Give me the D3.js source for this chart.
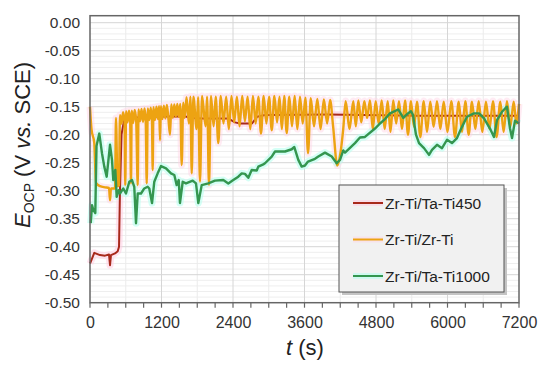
<!DOCTYPE html>
<html>
<head>
<meta charset="utf-8">
<script src="https://cdn.jsdelivr.net/npm/d3@7"></script>
<style>
    body { margin: 0; background: #ffffff; }
    svg { display: block; font-family: 'Liberation Sans', Arial, sans-serif; }
</style>
</head>
<body>
<div id="chart"></div>
<script>
// Tick values
const xTicks = [0, 1200, 2400, 3600, 4800, 6000, 7200];
const xMinorTicks = d3.range(0, 7201, 300);
const xGridMinor = [600, 1800, 3000, 4200, 5400, 6600];
const yTicks = [0, -0.05, -0.10, -0.15, -0.20, -0.25, -0.30, -0.35, -0.40, -0.45, -0.50];

const seriesNames = ['Zr-Ti/Ta-Ti450', 'Zr-Ti/Zr-Ti', 'Zr-Ti/Ta-Ti1000'];

// [t (s), E (V)]
const ta450 = [
    [0, -0.43], [12, -0.427], [72, -0.411], [168, -0.415], [252, -0.416], [319, -0.414],
    [336, -0.433], [352, -0.415], [420, -0.412], [465, -0.408], [487, -0.40], [503, -0.30],
    [529, -0.20], [570, -0.175], [638, -0.17], [1000, -0.168], [1594, -0.167], [1678, -0.17],
    [1896, -0.171], [2316, -0.171], [2434, -0.178], [2517, -0.18], [2719, -0.18], [2803, -0.168],
    [2937, -0.165], [4000, -0.164], [5500, -0.166], [7200, -0.166]
];

const zrzr = [
    [0, -0.15], [25, -0.19], [72, -0.215], [101, -0.286], [168, -0.292], [252, -0.294],
    [319, -0.295], [336, -0.317], [352, -0.296], [420, -0.296], [436, -0.17], [462, -0.292],
    [487, -0.29],
    [503, -0.165], [530, -0.18], [555, -0.16], [580, -0.176], [592, -0.29], [605, -0.158],
    [630, -0.178], [655, -0.157], [675, -0.176], [688, -0.287], [700, -0.157], [725, -0.179],
    [750, -0.156], [775, -0.175], [801, -0.29], [815, -0.155], [840, -0.176], [865, -0.154],
    [890, -0.177], [915, -0.153], [935, -0.175], [952, -0.287], [970, -0.153], [995, -0.174],
    [1020, -0.152], [1040, -0.176], [1052, -0.263], [1065, -0.151], [1090, -0.174], [1115, -0.15],
    [1140, -0.172], [1160, -0.149], [1175, -0.21], [1190, -0.149], [1215, -0.172], [1240, -0.148],
    [1265, -0.171], [1290, -0.147], [1315, -0.17], [1343, -0.20], [1365, -0.146], [1390, -0.17],
    [1415, -0.146], [1440, -0.168], [1465, -0.145], [1490, -0.168], [1515, -0.145], [1539, -0.254],
    [1565, -0.143], [1590, -0.17],
    [1620, -0.133], [1660, -0.18], [1685, -0.132], [1707, -0.269], [1735, -0.132], [1790, -0.19],
    [1815, -0.133], [1846, -0.284], [1880, -0.131], [1940, -0.185], [1965, -0.132], [1997, -0.29],
    [2030, -0.131], [2075, -0.185], [2110, -0.132], [2153, -0.215], [2195, -0.131], [2240, -0.18],
    [2285, -0.132], [2330, -0.19], [2375, -0.131], [2420, -0.178], [2465, -0.132], [2510, -0.185],
    [2555, -0.131], [2600, -0.176], [2645, -0.132], [2690, -0.19], [2735, -0.131], [2780, -0.18],
    [2825, -0.132], [2870, -0.198], [2915, -0.131], [2960, -0.18], [3005, -0.132], [3050, -0.192],
    [3095, -0.131], [3140, -0.178], [3180, -0.132], [3220, -0.19], [3260, -0.131], [3301, -0.197],
    [3345, -0.132], [3390, -0.185], [3435, -0.131], [3480, -0.19], [3525, -0.132], [3570, -0.18],
    [3615, -0.134], [3659, -0.233], [3705, -0.135], [3760, -0.185], [3815, -0.136], [3870, -0.19],
    [3925, -0.137], [3980, -0.18], [4030, -0.138], [4080, -0.185], [4150, -0.255], [4200, -0.235],
    [4250, -0.19], [4291, -0.14],
    [4355, -0.19], [4419, -0.14], [4461, -0.185], [4503, -0.139], [4553, -0.178], [4604, -0.14],
    [4651, -0.17], [4699, -0.139], [4747, -0.19], [4795, -0.14], [4845, -0.18], [4896, -0.139],
    [4946, -0.19], [4996, -0.14], [5043, -0.195], [5090, -0.139], [5138, -0.18], [5186, -0.14],
    [5236, -0.19], [5287, -0.139], [5337, -0.20], [5387, -0.14], [5437, -0.186], [5488, -0.141],
    [5544, -0.204], [5601, -0.14], [5656, -0.195], [5711, -0.141], [5767, -0.186], [5824, -0.14],
    [5880, -0.19], [5936, -0.141], [6000, -0.195], [6064, -0.14], [6126, -0.204], [6188, -0.141],
    [6243, -0.195], [6299, -0.14], [6355, -0.20], [6411, -0.141], [6467, -0.19], [6523, -0.14],
    [6584, -0.195], [6646, -0.141], [6704, -0.19], [6763, -0.14], [6824, -0.204], [6886, -0.141],
    [6942, -0.195], [6998, -0.14], [7054, -0.186], [7111, -0.141], [7155, -0.18], [7200, -0.145]
];

const ta1000 = [
    [12, -0.358], [34, -0.326], [55, -0.334], [89, -0.34], [109, -0.22], [156, -0.198],
    [201, -0.233], [240, -0.257], [280, -0.275], [336, -0.218], [369, -0.245], [391, -0.281],
    [425, -0.263], [448, -0.311], [482, -0.299], [503, -0.305], [559, -0.296], [604, -0.305],
    [660, -0.284], [705, -0.281], [743, -0.293], [772, -0.358], [801, -0.305], [856, -0.305],
    [911, -0.296], [968, -0.293], [995, -0.296], [1041, -0.322], [1079, -0.284], [1136, -0.269],
    [1192, -0.256], [1276, -0.26], [1359, -0.269], [1415, -0.272], [1455, -0.29], [1489, -0.281],
    [1510, -0.322], [1556, -0.284], [1611, -0.287], [1724, -0.282], [1779, -0.287], [1818, -0.322],
    [1875, -0.29], [1985, -0.287], [2098, -0.282], [2237, -0.281], [2321, -0.287], [2405, -0.281],
    [2489, -0.275], [2546, -0.269], [2601, -0.27], [2657, -0.277], [2714, -0.263], [2798, -0.264],
    [2825, -0.257], [2908, -0.253], [2937, -0.251], [3050, -0.239], [3105, -0.23], [3273, -0.23],
    [3385, -0.226], [3429, -0.222], [3496, -0.245], [3553, -0.257], [3608, -0.255], [3659, -0.248],
    [3776, -0.243], [3832, -0.239], [3944, -0.232], [4057, -0.239], [4140, -0.251], [4196, -0.245],
    [4251, -0.228], [4280, -0.232], [4447, -0.215], [4531, -0.205], [4615, -0.204], [4783, -0.189],
    [4867, -0.18], [4951, -0.172], [5035, -0.162], [5174, -0.155], [5258, -0.17], [5315, -0.164],
    [5387, -0.158], [5421, -0.165], [5471, -0.20], [5522, -0.215], [5606, -0.224], [5690, -0.236],
    [5740, -0.227], [5824, -0.218], [5908, -0.224], [5992, -0.209], [6075, -0.215], [6159, -0.206],
    [6243, -0.186], [6327, -0.168], [6445, -0.162], [6529, -0.162], [6613, -0.171], [6713, -0.189],
    [6780, -0.204], [6831, -0.174], [6915, -0.159], [6998, -0.15], [7049, -0.189], [7083, -0.206],
    [7133, -0.175], [7200, -0.18]
];

const width = 550;
const height = 369;
const plot = { left: 90, right: 519, top: 15.7, bottom: 302.7 };

const svg = d3.select('#chart')
    .append('svg')
    .attr('width', width)
    .attr('height', height);

const x = d3.scaleLinear().domain([0, 7200]).range([plot.left, plot.right]);
const y = d3.scaleLinear().domain([-0.5, 0]).range([plot.bottom, 22.7]);

// Grid
const grid = svg.append('g');
grid.selectAll('.hminor')
    .data(d3.range(-49, 1).map(i => i / 100).filter(v => Math.round(v * 100) % 5 !== 0))
    .enter().append('line')
    .attr('x1', plot.left).attr('x2', plot.right)
    .attr('y1', d => y(d)).attr('y2', d => y(d))
    .attr('stroke', '#eeeeee').attr('stroke-width', 1);
grid.selectAll('.vminor')
    .data(xGridMinor)
    .enter().append('line')
    .attr('x1', d => x(d)).attr('x2', d => x(d))
    .attr('y1', plot.top).attr('y2', plot.bottom)
    .attr('stroke', '#ebebeb').attr('stroke-width', 1);
grid.selectAll('.hmajor')
    .data(yTicks.slice(0, -1))
    .enter().append('line')
    .attr('x1', plot.left).attr('x2', plot.right)
    .attr('y1', d => y(d)).attr('y2', d => y(d))
    .attr('stroke', '#d6d6d6').attr('stroke-width', 1);
grid.selectAll('.vmajor')
    .data(xTicks.slice(1, -1))
    .enter().append('line')
    .attr('x1', d => x(d)).attr('x2', d => x(d))
    .attr('y1', plot.top).attr('y2', plot.bottom)
    .attr('stroke', '#d6d6d6').attr('stroke-width', 1);

// Series
const colors = ['#a8291b', '#eda312', '#34964f'];
const halos = ['rgba(255,205,225,0.55)', 'rgba(255,210,228,0.45)', 'rgba(185,255,240,0.6)'];
const curves = [d3.curveLinear, d3.curveMonotoneX, d3.curveLinear];
const widths = [2, 2.4, 2.4];
const allSeries = [ta450, zrzr, ta1000];

const line = d3.line().x(d => x(d[0])).y(d => y(d[1]));

allSeries.forEach((s, i) => {
    svg.append('path')
        .datum(s)
        .attr('d', line.curve(curves[i]))
        .attr('fill', 'none')
        .attr('stroke', halos[i])
        .attr('stroke-width', 7)
        .attr('stroke-linejoin', 'round');
});
allSeries.forEach((s, i) => {
    svg.append('path')
        .datum(s)
        .attr('d', line.curve(curves[i]))
        .attr('fill', 'none')
        .attr('stroke', colors[i])
        .attr('stroke-width', widths[i])
        .attr('stroke-linejoin', 'round');
});

// Frame
svg.append('rect')
    .attr('x', plot.left).attr('y', plot.top)
    .attr('width', plot.right - plot.left).attr('height', plot.bottom - plot.top)
    .attr('fill', 'none').attr('stroke', '#666666').attr('stroke-width', 1.5);

// X axis
const xAxis = svg.append('g')
    .attr('transform', `translate(0,${plot.bottom})`)
    .call(d3.axisBottom(x).tickValues(xTicks).tickSize(0).tickPadding(14).tickFormat(d3.format('d')));
xAxis.select('.domain').remove();
xAxis.selectAll('text').attr('font-size', 16).attr('fill', '#333333')
    .style('font-family', 'Liberation Sans, Arial, sans-serif');
svg.append('g').selectAll('line')
    .data(xMinorTicks)
    .enter().append('line')
    .attr('x1', d => x(d)).attr('x2', d => x(d))
    .attr('y1', plot.bottom).attr('y2', plot.bottom + 5)
    .attr('stroke', '#666666').attr('stroke-width', 1.2);

// Y axis
const yAxis = svg.append('g')
    .attr('transform', `translate(${plot.left},0)`)
    .call(d3.axisLeft(y).tickValues(yTicks).tickSize(0).tickPadding(10).tickFormat(d => d.toFixed(2)));
yAxis.select('.domain').remove();
yAxis.selectAll('text').attr('font-size', 15.5).attr('fill', '#333333')
    .style('font-family', 'Liberation Sans, Arial, sans-serif');

// Axis labels
const yLabel = svg.append('text')
    .attr('transform', 'translate(30,145) rotate(-90)')
    .attr('text-anchor', 'middle')
    .attr('font-size', 22)
    .attr('fill', '#222222');
yLabel.append('tspan').attr('font-style', 'italic').text('E');
yLabel.append('tspan').attr('font-size', 14).attr('dy', 4).text('OCP');
yLabel.append('tspan').attr('dy', -4).text(' (V ');
yLabel.append('tspan').attr('font-style', 'italic').text('vs.');
yLabel.append('tspan').text(' SCE)');

const xLabel = svg.append('text')
    .attr('x', 305).attr('y', 355)
    .attr('text-anchor', 'middle')
    .attr('font-size', 22)
    .attr('fill', '#222222');
xLabel.append('tspan').attr('font-style', 'italic').text('t');
xLabel.append('tspan').text(' (s)');

// Legend
const legend = svg.append('g');
legend.append('rect')
    .attr('x', 342).attr('y', 188).attr('width', 165).attr('height', 107)
    .attr('fill', '#c4c4c4');
legend.append('rect')
    .attr('x', 339).attr('y', 185).attr('width', 165).attr('height', 107)
    .attr('fill', '#f1f1f1').attr('stroke', '#555555').attr('stroke-width', 1);

const rows = legend.selectAll('.row')
    .data(seriesNames)
    .enter().append('g')
    .attr('transform', (d, i) => `translate(0,${203 + i * 36.5})`);
rows.append('line')
    .attr('x1', 353).attr('x2', 383).attr('y1', 0).attr('y2', 0)
    .attr('stroke', (d, i) => halos[i]).attr('stroke-width', 6);
rows.append('line')
    .attr('x1', 353).attr('x2', 383).attr('y1', 0).attr('y2', 0)
    .attr('stroke', (d, i) => colors[i]).attr('stroke-width', 2);
rows.append('text')
    .attr('x', 385).attr('y', 5.5)
    .attr('font-size', 15.5)
    .attr('fill', '#222222')
    .text(d => d);
</script>
</body>
</html>
